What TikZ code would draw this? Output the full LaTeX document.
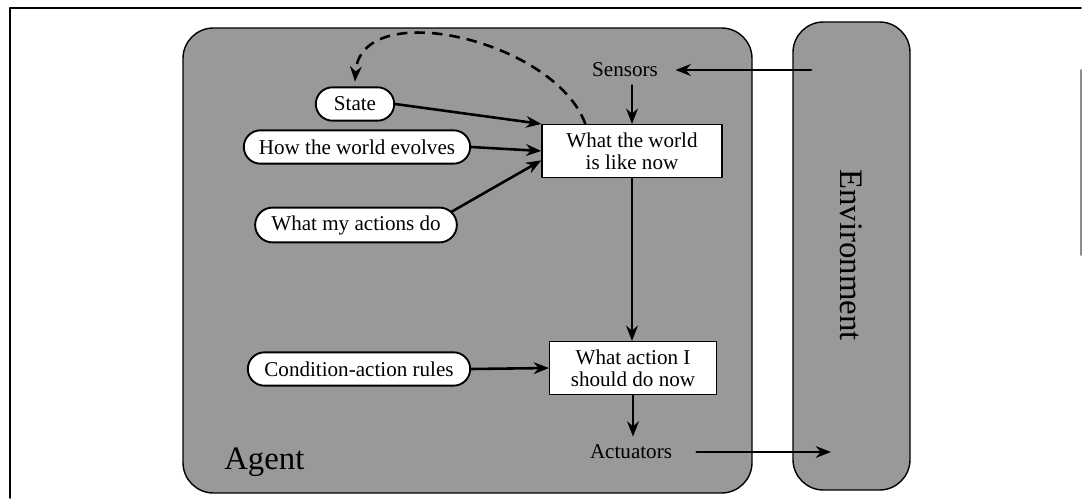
\documentclass[tikz,border=0pt]{standalone}
\usepackage{fontspec}
\setmainfont{Liberation Serif}
\usetikzlibrary{arrows.meta,shapes.misc}
\begin{document}
\begin{tikzpicture}[x=0.015cm,y=-0.015cm,>={Stealth[length=6.5pt,width=5pt]},line join=round,line cap=round,
	font=\fontsize{9}{9.5}\selectfont,
	pill/.style={rounded rectangle,draw,fill=white,line width=0.8pt,minimum height=0.5cm},
	ruleblock/.style={rectangle,draw,fill=white,line width=0.6pt,align=center,minimum height=0.76cm},
	flow/.style={->,line width=1.1pt},
	bigtext/.style={font=\fontsize{14}{16}\selectfont}]
	\useasboundingbox (0,0) rectangle (1083,502);
	\draw[line width=0.8pt] (10,498)--(10,8)--(1081,8);
	\draw[black!45,line width=0.8pt] (1081,70)--(1081,255);
	\draw[fill=black!40,line width=0.6pt,rounded corners=13pt] (183,28) rectangle (752,493);
	\draw[fill=black!40,line width=0.6pt,rounded corners=13pt] (793,22) rectangle (910,490);
	\node[bigtext,rotate=-90] (envlabel) at (851,255) {Environment};
	\node[bigtext,anchor=west] (agentlabel) at (216,462) {Agent};
	\node[pill,minimum width=1.41cm] (state) at (355,104) {State};
	\node[pill,minimum width=3.63cm] (evolves) at (357,147) {How the world evolves};
	\node[pill,minimum width=3.26cm] (actions) at (356,225) {What my actions do};
	\node[pill,minimum width=3.57cm] (rules) at (359,369) {Condition-action rules};
	\node[ruleblock,minimum width=2.7cm] (worldnow) at (632,151) {What the world\\is like now};
	\node[ruleblock,minimum width=2.5cm] (actionnow) at (633,368) {What action I\\should do now};
	\node (sensors) at (625,70) {Sensors};
	\node (actuators) at (631,452) {Actuators};
	\coordinate (envin) at (811,70);
	\coordinate (envout) at (831,452);
	\draw[flow] (envin)--([xshift=4pt]sensors.east);
	\draw[flow] (sensors.south -| worldnow.north)--(worldnow.north);
	\draw[flow] (state.east)--(worldnow.north west);
	\draw[flow] (evolves.east)--(worldnow.west);
	\draw[flow] (actions.8)--([yshift=-4pt]worldnow.west);
	\draw[flow] (rules.east)--(actionnow.west);
	\draw[flow] (worldnow.south)--(worldnow.south |- actionnow.north);
	\draw[flow] (actionnow.south)--(actionnow.south |- actuators.north);
	\draw[flow] ([xshift=7pt]actuators.east)--(envout);
	\draw[flow,dash pattern=on 4.5pt off 3pt,line cap=butt] ([xshift=-0.7cm]worldnow.north) .. controls (555,40) and (360,-5) .. ([yshift=2pt]state.north);
\end{tikzpicture}
\end{document}
